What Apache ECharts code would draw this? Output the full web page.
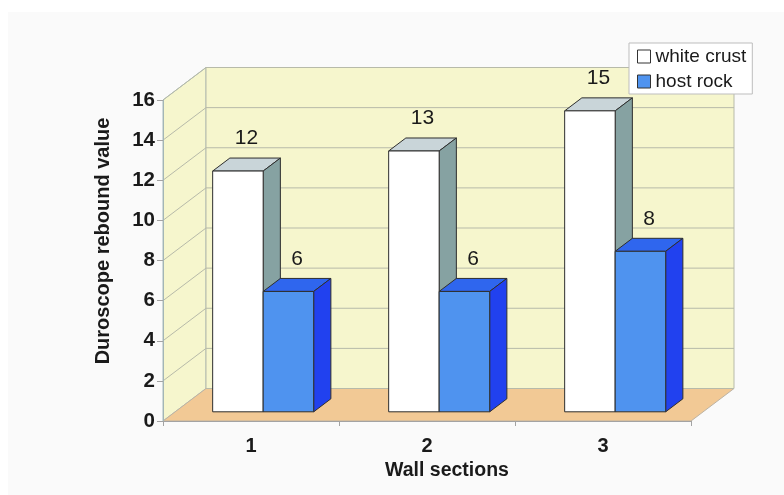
<!DOCTYPE html>
<html>
<head>
<meta charset="utf-8">
<script src="https://cdn.jsdelivr.net/npm/echarts@6/dist/echarts.min.js"></script>
<style>
  html, body { margin: 0; padding: 0; background: #ffffff; }
  #chart { width: 784px; height: 495px; }
</style>
</head>
<body>
<div id="chart"></div>
<script>
// Duroscope rebound values per wall section
const categories = ['1', '2', '3'];
const whiteCrust = [12, 13, 15];
const hostRock = [6, 6, 8];
const yTicks = [0, 2, 4, 6, 8, 10, 12, 14, 16];
const seriesNames = ['white crust', 'host rock'];

// Oblique projection of the depth axis (pixels for the full depth)
const DEPTH_DX = 43;
const DEPTH_DY = -32.5;
// Bars occupy this slice of the depth
const BAR_Z0 = 0.283;
const BAR_Z1 = 0.683;
// Width of one bar as a share of the category band
const BAR_W = 0.287;

const FONT = '"Liberation Sans", Arial, sans-serif';

const faces = [
  { front: '#ffffff', top: '#c9d5d9', side: '#86a2a2' },
  { front: '#4f93ef', top: '#2f66ee', side: '#2141ef' }
];

// Back wall, side wall, floor and their gridlines
function wallRenderer(params, api) {
  const cs = params.coordSys;
  const L = cs.x, R = cs.x + cs.width, T = cs.y, B = cs.y + cs.height;
  const dx = DEPTH_DX, dy = DEPTH_DY;
  const grid = { stroke: '#b7baa9', lineWidth: 1 };
  const children = [
    { type: 'polygon', shape: { points: [[L, T], [L + dx, T + dy], [L + dx, B + dy], [L, B]] },
      style: { fill: '#f6f6cd', stroke: '#a9bcbc', lineWidth: 1 } },
    { type: 'rect', shape: { x: L + dx, y: T + dy, width: cs.width, height: cs.height },
      style: { fill: '#f6f6cd', stroke: '#b7baa9', lineWidth: 1 } },
    { type: 'polygon', shape: { points: [[L, B], [R, B], [R + dx, B + dy], [L + dx, B + dy]] },
      style: { fill: '#f2c995', stroke: '#bdb3a3', lineWidth: 1 } }
  ];
  yTicks.forEach(function (t) {
    const y = api.coord([0, t])[1];
    if (t > 0) {
      children.push({ type: 'line', shape: { x1: L, y1: y, x2: L + dx, y2: y + dy }, style: grid });
    }
    children.push({ type: 'line', shape: { x1: L + dx, y1: y + dy, x2: R + dx, y2: y + dy }, style: grid });
  });
  return { type: 'group', children: children };
}

// A 3D box for one bar, plus its value label
function barRenderer(seriesIdx) {
  return function (params, api) {
    const i = api.value(0), v = api.value(1);
    const base = api.coord([i, 0]);
    const topPt = api.coord([i, v]);
    const band = api.size([1, 0])[0];
    const w = band * BAR_W;
    const x0 = base[0] + (seriesIdx === 0 ? -w : 0) + BAR_Z0 * DEPTH_DX;
    const x1 = x0 + w;
    const yb = base[1] + BAR_Z0 * DEPTH_DY;
    const yt = topPt[1] + BAR_Z0 * DEPTH_DY;
    const dx = (BAR_Z1 - BAR_Z0) * DEPTH_DX;
    const dy = (BAR_Z1 - BAR_Z0) * DEPTH_DY;
    const c = faces[seriesIdx];
    const edge = { stroke: '#2e2e2e', lineWidth: 1, lineJoin: 'round' };
    return {
      type: 'group',
      children: [
        { type: 'polygon', shape: { points: [[x0, yt], [x1, yt], [x1 + dx, yt + dy], [x0 + dx, yt + dy]] },
          style: Object.assign({ fill: c.top }, edge) },
        { type: 'polygon', shape: { points: [[x1, yb], [x1, yt], [x1 + dx, yt + dy], [x1 + dx, yb + dy]] },
          style: Object.assign({ fill: c.side }, edge) },
        { type: 'rect', shape: { x: x0, y: yt, width: w, height: yb - yt },
          style: Object.assign({ fill: c.front }, edge) },
        { type: 'text',
          style: { text: String(v), x: (x0 + x1 + dx) / 2, y: yt + dy - 9,
                   align: 'center', verticalAlign: 'bottom',
                   fontSize: 21, fontFamily: FONT, fill: '#1a1a1a' } }
      ]
    };
  };
}

const chart = echarts.init(document.getElementById('chart'), null, { renderer: 'canvas' });

chart.setOption({
  animation: false,
  backgroundColor: '#ffffff',
  graphic: [
    { type: 'rect', z: -10, shape: { x: 8, y: 12, width: 790, height: 490 },
      style: { fill: '#fafafa' } },
    { type: 'text', x: 103, y: 241, rotation: Math.PI / 2,
      style: { text: 'Duroscope rebound value', align: 'center', verticalAlign: 'middle',
               fontSize: 20, fontWeight: 'bold', fontFamily: FONT, fill: '#1a1a1a' } },
    { type: 'text', x: 447, y: 471,
      style: { text: 'Wall sections', align: 'center', verticalAlign: 'middle',
               fontSize: 19.5, fontWeight: 'bold', fontFamily: FONT, fill: '#1a1a1a' } }
  ],
  grid: { left: 163, right: 93, top: 100, bottom: 74, containLabel: false },
  legend: {
    orient: 'vertical',
    left: 629,
    top: 43,
    data: [
      { name: seriesNames[0], icon: 'rect' },
      { name: seriesNames[1], icon: 'rect' }
    ],
    itemWidth: 13,
    itemHeight: 13,
    itemGap: 6,
    padding: [4, 6, 3, 8],
    backgroundColor: '#ffffff',
    borderColor: '#bdbdbd',
    borderWidth: 1,
    borderRadius: 0,
    itemStyle: { borderColor: '#333333', borderWidth: 1 },
    textStyle: { fontSize: 19, lineHeight: 19, fontFamily: FONT, color: '#1a1a1a' },
    selectedMode: false
  },
  xAxis: {
    type: 'category',
    data: categories,
    z: 10,
    axisLine: { lineStyle: { color: '#a3a3a3', width: 1 } },
    axisTick: { show: true, length: 5, lineStyle: { color: '#a3a3a3' } },
    axisLabel: { fontSize: 20, fontWeight: 'bold', fontFamily: FONT, color: '#1a1a1a', margin: 15 },
    splitLine: { show: false }
  },
  yAxis: {
    type: 'value',
    min: 0,
    max: 16,
    interval: 2,
    z: 10,
    axisLine: { show: true, lineStyle: { color: '#a3b5b5', width: 1 } },
    axisTick: { show: true, length: 6, lineStyle: { color: '#a3a3a3' } },
    axisLabel: { fontSize: 20.5, fontWeight: 'bold', fontFamily: FONT, color: '#1a1a1a', margin: 8 },
    splitLine: { show: false }
  },
  series: [
    {
      type: 'custom',
      name: 'walls',
      z: 1,
      silent: true,
      renderItem: wallRenderer,
      data: [[0, 0]],
      encode: { x: 0, y: 1 }
    },
    {
      type: 'custom',
      name: seriesNames[0],
      z: 2,
      itemStyle: { color: faces[0].front },
      renderItem: barRenderer(0),
      data: whiteCrust.map(function (v, i) { return [i, v]; }),
      encode: { x: 0, y: 1 }
    },
    {
      type: 'custom',
      name: seriesNames[1],
      z: 3,
      itemStyle: { color: faces[1].front },
      renderItem: barRenderer(1),
      data: hostRock.map(function (v, i) { return [i, v]; }),
      encode: { x: 0, y: 1 }
    }
  ]
});
</script>
</body>
</html>
